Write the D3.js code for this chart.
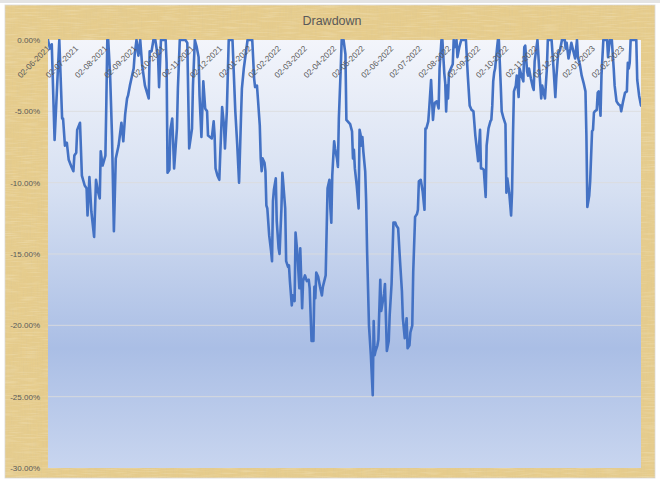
<!DOCTYPE html>
<html>
<head>
<meta charset="utf-8">
<script src="https://cdn.jsdelivr.net/npm/d3@7"></script>
<style>
html,body{margin:0;padding:0;background:#ffffff;}
svg{display:block;}
text{font-family:"Liberation Sans", Arial, sans-serif;}
</style>
</head>
<body>
<svg id="chart" width="660" height="481"></svg>
<script>
// ---------------- data ----------------
const chartTitle = "Drawdown";
const startDate = "2021-06-02";
const endDate = "2023-02-22";
// days since startDate for each observation
const dayOffsets = [
0,2,4,7,12,15,16,18,20,22,25,27,28,30,31,34,36,39,41,42,44,46,49,51,53,55,56,58,61,62,63,64,66,68,70,72,75,78,80,82,84,85,87,89,91,92,94,96,98,100,
103,107,108,110,112,114,117,118,120,125,126,127,129,130,132,134,137,138,140,146,148,150,153,154,156,158,160,161,163,165,167,169,170,172,174,176,177,178,180,182,183,185,187,188,190,192,196,199,201,203,
205,206,208,212,217,219,220,222,223,225,226,227,228,230,231,232,233,235,237,238,239,240,242,243,245,246,248,249,250,252,253,255,256,257,259,260,262,263,265,267,268,270,271,273,275,277,278,280,282,283,
284,285,287,289,291,292,295,297,299,300,301,302,304,305,307,308,309,311,312,314,316,317,321,323,324,325,326,328,330,331,332,333,334,335,337,338,339,341,343,345,346,347,348,350,351,353,354,355,357,358,
360,362,363,365,367,369,370,372,374,376,377,379,381,382,384,385,387,388,390,392,393,394,396,398,400,401,402,404,405,407,409,410,411,413,415,416,418,419,421,422,423,424,425,426,428,430,431,432,434,435,
437,439,444,446,448,450,452,454,457,459,460,461,463,465,466,468,470,471,472,473,474,475,477,478,479,481,482,484,486,487,488,490,492,493,494,495,497,498,500,501,503,505,506,507,509,510,511,513,515,516,
517,519,520,522,524,525,527,528,530,531,535,537,539,540,542,544,546,549,550,551,553,555,556,560,562,563,565,567,569,571,572,573,575,576,578,579,580,581,583,584,585,587,588,590,594,595,596,597,599,601,
602,604,606,608,609,611,613,615,616,617,618,619,625,626,628,630
];
// drawdown in percent
const drawdownPct = [
0,-0.6,-0.3,-7.0,0,-5.5,-5.5,-7.4,-7.2,-8.4,-8.9,-9.2,-8.1,-7.9,-6.3,-5.8,-9.5,-10.2,-10.4,-12.3,-9.6,-12.0,-13.8,-9.8,-10.6,-11.1,-7.8,-8.8,-8.1,-4.3,0,0,-2.5,-6.7,-13.4,-8.3,-7.4,-5.8,-7.1,-5.2,-4.1,-3.9,-3.2,-2.6,-2.0,-1.1,0,-1.1,0,-1.75,
-3.2,-4.1,-0.8,-0.8,0,0,-1.3,-3.3,0,0,-1.6,-9.3,-9.1,-6.3,-5.5,-9.0,-6.2,-3.4,0,0,-0.2,-7.6,-6.2,-3.2,0,-0.5,-1.2,-3.9,-6.8,-2.9,-4.8,-5.0,-6.7,-6.8,-6.9,-5.7,-6.7,-9.0,-9.5,-9.8,-8.0,-4.7,-6.0,-7.6,-5.0,0,0,-5.0,-7.3,-10.0,
-5.5,-3.4,-2.0,0,0,-2.7,-3.3,-3.2,-4.1,-6.0,-8.3,-9.2,-8.3,-8.6,-9.2,-11.6,-11.8,-13.7,-14.8,-15.5,-11.3,-10.5,-9.7,-12.7,-14.6,-15.0,-11.8,-9.3,-10.1,-11.8,-15.5,-15.9,-15.8,-16.9,-18.6,-17.9,-18.3,-13.5,-15.0,-17.4,-14.6,-18.8,-16.9,-16.5,-16.9,-16.8,-17.4,-21.1,-21.1,-17.3,
-18.1,-16.3,-16.6,-17.3,-17.9,-17.3,-16.5,-10.4,-9.8,-11.8,-12.8,-9.5,-7.1,-7.6,-8.3,-8.9,-5.5,-2.0,0,0,-1.0,-5.6,-5.9,-6.4,-8.3,-7.7,-9.0,-10.2,-11.8,-6.3,-6.6,-7.4,-6.8,-7.8,-9.2,-11.3,-14.8,-20.0,-22.1,-24.9,-19.7,-22.1,-21.8,-21.4,-21.0,-16.8,-19.0,-18.6,-17.8,-17.1,
-21.8,-21.1,-19.3,-17.1,-12.8,-12.8,-13.0,-13.2,-15.5,-17.6,-19.5,-20.9,-19.5,-21.6,-21.4,-20.5,-20.0,-16.3,-12.4,-12.2,-11.9,-9.9,-9.8,-10.6,-11.9,-6.2,-6.2,-5.7,-4.8,-2.8,-5.6,-4.8,-4.4,-4.3,-4.8,-2.0,0,0,-2.3,-3.0,-5.0,-3.2,-4.1,-2.3,-2.0,-1.7,0,-0.5,0,-1.2,
-0.5,0,0,-2.5,-4.6,-4.9,-5.0,-6.7,-8.5,-6.3,-9.0,-9.0,-9.1,-11.0,-7.4,-6.2,-5.7,-5.6,-4.6,-2.9,-2.3,-2.0,-0.6,0,0,-3.2,-5.0,-5.5,-5.9,-10.7,-9.7,-10.7,-12.3,-10.7,-6.7,-3.6,-3.2,-2.5,-4.0,-2.0,-2.5,-2.9,-0.5,-0.4,-2.2,-2.5,-2.0,-2.7,-3.3,-3.5,
-1.5,-0.5,0,-2.2,-4.1,-3.2,-3.8,-4.1,-2.0,0,0,-1.9,-4.0,-2.7,-0.9,-0.7,0,0,-0.6,-0.2,-1.3,-0.6,-0.2,-1.3,0,-1.2,-1.7,-2.5,-3.0,-3.6,-6.7,-11.7,-10.9,-9.9,-6.4,-6.3,-5.1,-5.0,-4.9,-3.7,-3.6,-5.3,-2.5,0,0,-1.2,-0.5,0,0,-2.0,
-3.2,-4.3,-4.5,-4.6,-5.0,-4.3,-3.7,-3.6,-1.6,-2.0,-1.6,0,0,-2.8,-3.9,-4.6
];
const xTickLabels = ["02-06-2021","02-07-2021","02-08-2021","02-09-2021","02-10-2021","02-11-2021","02-12-2021",
"02-01-2022","02-02-2022","02-03-2022","02-04-2022","02-05-2022","02-06-2022","02-07-2022","02-08-2022","02-09-2022",
"02-10-2022","02-11-2022","02-12-2022","02-01-2023","02-02-2023"];
const yTickValues = [0,-5,-10,-15,-20,-25,-30];

// ---------------- layout ----------------
const W = 660, H = 481;
const frame = {x:5, y:5, w:650, h:473};
const plot = {left:48, right:641, top:40, bottom:468};

const svg = d3.select("#chart");
const defs = svg.append("defs");

// papyrus-like texture
const f = defs.append("filter").attr("id","tex").attr("x",0).attr("y",0).attr("width","100%").attr("height","100%");
f.append("feTurbulence").attr("type","fractalNoise").attr("baseFrequency","0.8 0.05").attr("numOctaves",2).attr("seed",4).attr("result","n1");
f.append("feColorMatrix").attr("in","n1").attr("type","matrix")
 .attr("values","0 0 0 0 0.72  0 0 0 0 0.57  0 0 0 0 0.28  1.1 0 0 0 -0.42").attr("result","c1");
f.append("feTurbulence").attr("type","fractalNoise").attr("baseFrequency","0.05 0.8").attr("numOctaves",2).attr("seed",9).attr("result","n2");
f.append("feColorMatrix").attr("in","n2").attr("type","matrix")
 .attr("values","0 0 0 0 0.97  0 0 0 0 0.90  0 0 0 0 0.70  -0.8 0 0 0 0.42").attr("result","c2");
f.append("feTurbulence").attr("type","fractalNoise").attr("baseFrequency","0.03").attr("numOctaves",3).attr("seed",2).attr("result","n3");
f.append("feColorMatrix").attr("in","n3").attr("type","matrix")
 .attr("values","0 0 0 0 0.78  0 0 0 0 0.62  0 0 0 0 0.30  1.0 0 0 0 -0.42").attr("result","c3");
const fm = f.append("feMerge");
fm.append("feMergeNode").attr("in","c3");
fm.append("feMergeNode").attr("in","c1");
fm.append("feMergeNode").attr("in","c2");

// plot gradient
const grad = defs.append("linearGradient").attr("id","plotGrad").attr("x1",0).attr("y1",0).attr("x2",0).attr("y2",1);
[["0%","#f3f5fb"],["35%","#d6e0f2"],["72%","#aabee5"],["100%","#c8d5ef"]].forEach(s=>
  grad.append("stop").attr("offset",s[0]).attr("stop-color",s[1]));

defs.append("clipPath").attr("id","plotClip").append("rect")
  .attr("x",plot.left).attr("y",plot.top-1).attr("width",plot.right-plot.left).attr("height",plot.bottom-plot.top+1);

// outer frame
svg.append("rect").attr("x",0).attr("y",0).attr("width",W).attr("height",3).attr("fill","#e4e4e4");
svg.append("rect").attr("x",frame.x).attr("y",frame.y).attr("width",frame.w).attr("height",frame.h)
  .attr("fill","#e6cc8c").attr("stroke","#d9d9d9").attr("stroke-width",0.8);
svg.append("rect").attr("x",frame.x).attr("y",frame.y).attr("width",frame.w).attr("height",frame.h)
  .attr("filter","url(#tex)").attr("opacity",0.75);

// plot area
svg.append("rect").attr("x",plot.left).attr("y",plot.top)
  .attr("width",plot.right-plot.left).attr("height",plot.bottom-plot.top).attr("fill","url(#plotGrad)");

// scales
const parseISO = d3.timeParse("%Y-%m-%d");
const parseLbl = d3.timeParse("%d-%m-%Y");
const t0 = parseISO(startDate), t1 = parseISO(endDate);
const x = d3.scaleTime().domain([t0,t1]).range([plot.left,plot.right]);
const y = d3.scaleLinear().domain([0,-30]).range([plot.top,plot.bottom]);

const data = dayOffsets.map((d,i)=>({date:d3.timeDay.offset(t0,d), v:drawdownPct[i]}));

// gridlines
svg.append("g").selectAll("line").data(yTickValues.filter(v=>v!==0 && v!==-30)).join("line")
  .attr("x1",plot.left).attr("x2",plot.right)
  .attr("y1",d=>y(d)).attr("y2",d=>y(d))
  .attr("stroke","#dcdcdc").attr("stroke-width",1).attr("opacity",0.85);

// y axis
const yAxis = d3.axisLeft(y).tickValues(yTickValues).tickSize(0).tickPadding(8)
  .tickFormat(d=>d.toFixed(2)+"%");
const gy = svg.append("g").attr("transform",`translate(${plot.left},0)`).call(yAxis);
gy.select(".domain").remove();
gy.selectAll("text").attr("fill","#595959").style("font-size","8px").style("font-family","'Liberation Sans', Arial, sans-serif");

// line
const line = d3.line().x(d=>x(d.date)).y(d=>y(d.v)).curve(d3.curveLinear);
svg.append("path").datum(data).attr("clip-path","url(#plotClip)")
  .attr("d",line).attr("fill","none").attr("stroke","#4472c4")
  .attr("stroke-width",2.6).attr("stroke-linejoin","round").attr("stroke-linecap","round");

// x tick labels (inside plot, rotated)
const tickDates = xTickLabels.map(parseLbl);
svg.append("g").selectAll("text").data(tickDates).join("text")
  .attr("transform",d=>`translate(${x(d)+2.5},${plot.top+9}) rotate(-45)`)
  .attr("text-anchor","end")
  .attr("fill","#595959")
  .style("font-size","8.2px")
  .text((d,i)=>xTickLabels[i]);

// title
svg.append("text").attr("x",332).attr("y",25).attr("text-anchor","middle")
  .attr("fill","#595959").style("font-size","12.5px").text(chartTitle);
</script>
</body>
</html>
